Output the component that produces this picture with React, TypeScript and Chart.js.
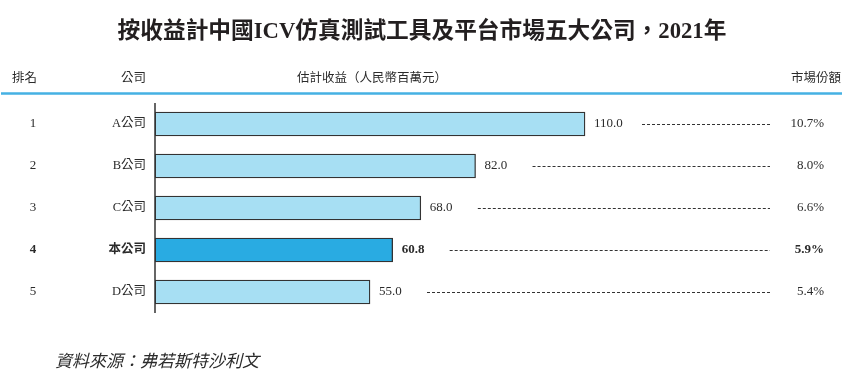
import React, { useEffect, useRef } from "react";
import { Chart, registerables } from "chart.js";

Chart.register(...registerables);

const title = "按收益計中國ICV仿真測試工具及平台市場五大公司，2021年";
const headers = ["排名", "公司", "估計收益（人民幣百萬元）", "市場份額"];
const ranks = ["1", "2", "3", "4", "5"];
const companies = ["A公司", "B公司", "C公司", "本公司", "D公司"];
const revenues = [110.0, 82.0, 68.0, 60.8, 55.0];
const shares = ["10.7%", "8.0%", "6.6%", "5.9%", "5.4%"];
const highlightIndex = 3;
const source = "資料來源：弗若斯特沙利文";

const FONT = "'Liberation Serif', 'Noto Sans CJK TC', serif";
const TEXT = "#2b2b2b";

const textPlugin = {
  id: "tableText",
  afterDatasetsDraw(chart: any) {
    const { ctx, chartArea, scales } = chart;
    const xs = scales.x;
    const ys = scales.y;
    ctx.save();
    // title
    ctx.fillStyle = "#231f20";
    ctx.font = `bold 22.7px ${FONT}`;
    ctx.textAlign = "center";
    ctx.textBaseline = "middle";
    ctx.fillText(title, 422, 32);

    // headers
    ctx.fillStyle = TEXT;
    ctx.font = `12.5px ${FONT}`;
    ctx.textAlign = "left";
    ctx.fillText(headers[0], 12, 79);
    ctx.textAlign = "right";
    ctx.fillText(headers[1], 146, 79);
    ctx.textAlign = "left";
    ctx.fillText(headers[2], 297, 79);
    ctx.textAlign = "right";
    ctx.fillText(headers[3], 841, 79);

    // header line
    ctx.strokeStyle = "#45b1e3";
    ctx.lineWidth = 2.5;
    ctx.beginPath();
    ctx.moveTo(1, 93.5);
    ctx.lineTo(842, 93.5);
    ctx.stroke();

    // axis line
    ctx.strokeStyle = "#333";
    ctx.lineWidth = 1.5;
    ctx.beginPath();
    ctx.moveTo(chartArea.left, chartArea.top);
    ctx.lineTo(chartArea.left, chartArea.bottom);
    ctx.stroke();

    // rows
    revenues.forEach((v, i) => {
      const y = ys.getPixelForValue(i);
      const xe = xs.getPixelForValue(v);
      const bold = i === highlightIndex ? "bold " : "";
      ctx.fillStyle = TEXT;
      ctx.textBaseline = "middle";
      ctx.font = `${bold}13px ${FONT}`;
      ctx.textAlign = "center";
      ctx.fillText(ranks[i], 33, y);
      ctx.font = `${bold}12.5px ${FONT}`;
      ctx.textAlign = "right";
      ctx.fillText(companies[i], 146, y);
      ctx.font = `${bold}13px ${FONT}`;
      ctx.textAlign = "left";
      ctx.fillText(v.toFixed(1), xe + 9, y);
      ctx.textAlign = "right";
      ctx.fillText(shares[i], 824, y);
      // dashed leader
      ctx.strokeStyle = "#333";
      ctx.lineWidth = 1;
      ctx.setLineDash([3, 2]);
      ctx.beginPath();
      ctx.moveTo(xe + 57, Math.round(y) + 0.5);
      ctx.lineTo(770, Math.round(y) + 0.5);
      ctx.stroke();
      ctx.setLineDash([]);
    });

    // source
    ctx.fillStyle = TEXT;
    ctx.font = `italic 17px ${FONT}`;
    ctx.textAlign = "left";
    ctx.fillText(source, 55, 363);
    ctx.restore();
  },
};

export default function App() {
  const ref = useRef<HTMLCanvasElement>(null);
  useEffect(() => {
    document.body.style.margin = "0";
    const chart = new Chart(ref.current as HTMLCanvasElement, {
      type: "bar",
      data: {
        labels: companies,
        datasets: [
          {
            data: revenues,
            backgroundColor: revenues.map((_, i) => (i === highlightIndex ? "#29abe2" : "#a7dff3")),
            borderColor: "#333333",
            borderWidth: 1.3,
            borderSkipped: false,
            barThickness: 24,
          },
        ],
      },
      options: {
        indexAxis: "y",
        responsive: false,
        animation: false,
        layout: { padding: { left: 155, right: 7, top: 103, bottom: 71 } },
        scales: {
          x: { display: false, min: 0, max: 176 },
          y: { display: false },
        },
        plugins: { legend: { display: false }, tooltip: { enabled: false }, title: { display: false } },
      },
      plugins: [textPlugin],
    } as any);
    return () => chart.destroy();
  }, []);
  return <canvas ref={ref} width={850} height={384} style={{ display: "block" }} />;
}
